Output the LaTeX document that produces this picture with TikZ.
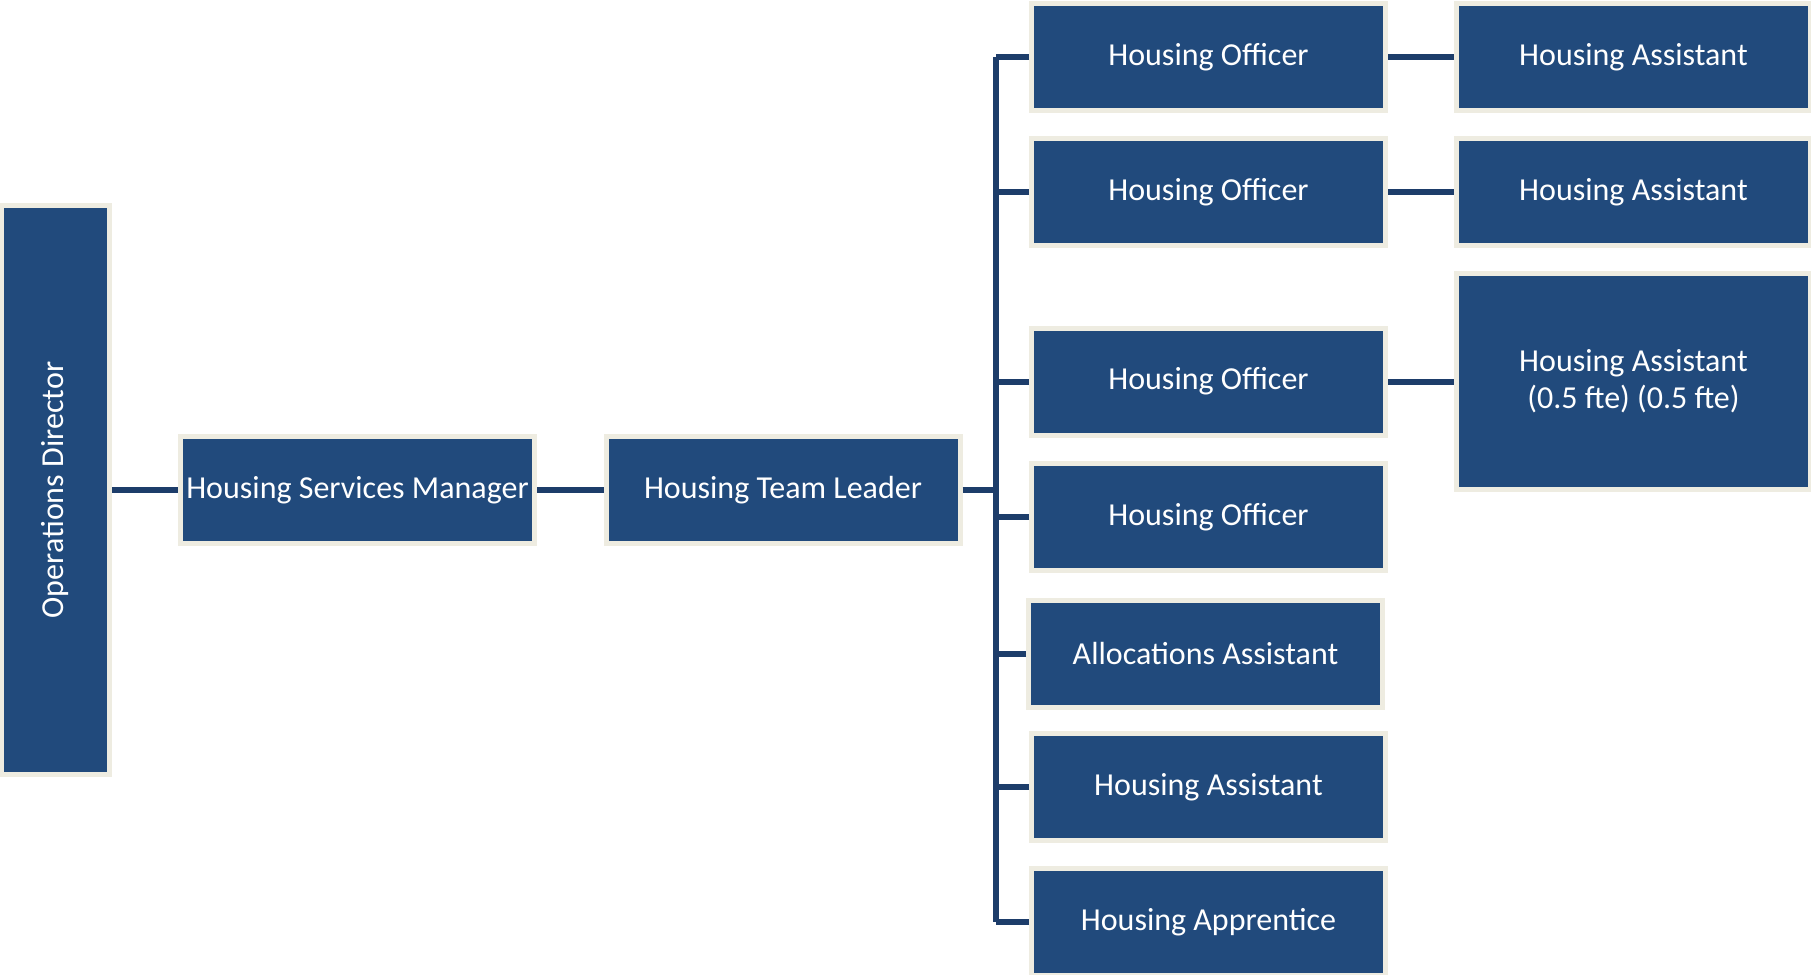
\documentclass[tikz,border=0pt]{standalone}
\usepackage{fontspec}
\setmainfont{Carlito}
\definecolor{boxblue}{RGB}{33,74,124}
\definecolor{boxrim}{RGB}{238,236,225}
\definecolor{linkblue}{RGB}{29,61,106}
\tikzset{
  post/.style={draw=boxrim, fill=boxblue, line width=2.5pt, text=white,
    minimum width=177pt, minimum height=53.5pt, inner sep=2pt, align=center,
    font=\fontsize{16}{18.5}\selectfont},
  link/.style={draw=linkblue, line width=3pt}
}
\begin{document}
\begin{tikzpicture}[x=0.5pt,y=-0.5pt]
	\useasboundingbox (0,0) rectangle (1811,975);
	% first three levels
	\node[post, minimum width=284.5pt, minimum height=54pt, rotate=90] (opsdir) at (55.5,490) {Operations Director};
	\node[post] (hsm) at (357.5,490) {Housing Services Manager};
	\node[post] (htl) at (783,490) {Housing Team Leader};
	% team
	\node[post] (ho1) at (1208.5,57) {Housing Officer};
	\node[post] (ho2) at (1208.5,192) {Housing Officer};
	\node[post] (ho3) at (1208.5,381.5) {Housing Officer};
	\node[post] (ho4) at (1208.5,517) {Housing Officer};
	\node[post] (alloc) at (1205.5,653.5) {Allocations Assistant};
	\node[post] (hasst) at (1208.5,787) {Housing Assistant};
	\node[post] (appr) at (1208.5,922) {Housing Apprentice};
	% assistants to officers
	\node[post] (ha1) at (1633.5,57) {Housing Assistant};
	\node[post] (ha2) at (1633.5,192) {Housing Assistant};
	\node[post, minimum height=108pt] (ha3) at (1633.5,381.5) {Housing Assistant\\(0.5 fte) (0.5 fte)};
	\coordinate (bustop) at (996,57);
	\coordinate (busbot) at (996,922);
	\draw[link] (opsdir.south) -- (hsm.west);
	\draw[link] (hsm.east) -- (htl.west);
	\draw[link] (htl.east) -- (htl.east -| bustop);
	\draw[link] (bustop) -- (busbot);
	\foreach \n in {ho1,ho2,ho3,ho4,alloc,hasst,appr}
	{
		\draw[link] (\n.west) -- (\n.west -| bustop);
	}
	\draw[link] (ho1.east) -- (ha1.west);
	\draw[link] (ho2.east) -- (ha2.west);
	\draw[link] (ho3.east) -- (ha3.west);
\end{tikzpicture}
\end{document}
